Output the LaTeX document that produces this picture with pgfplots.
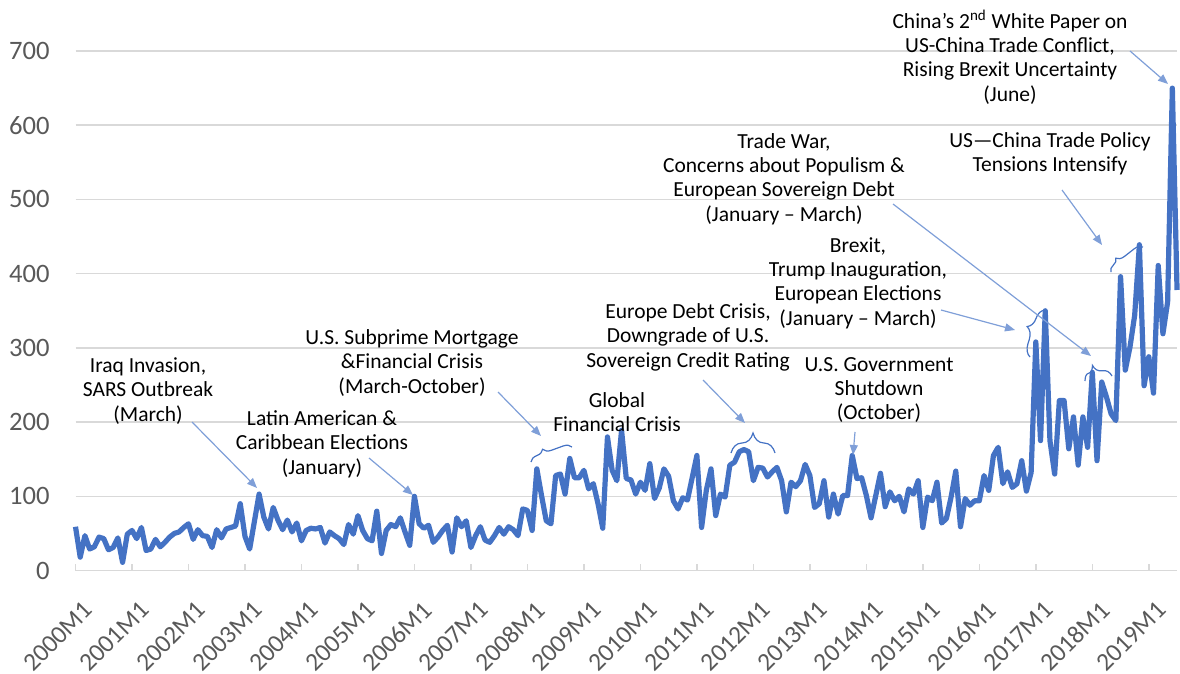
\documentclass[border=0pt]{standalone}
\usepackage{fontspec}
\setmainfont{Carlito}
\usepackage{pgfplots}
\pgfplotsset{compat=1.18}
\usetikzlibrary{arrows.meta,decorations.pathreplacing}
\definecolor{epuBlue}{HTML}{4472C4}
\definecolor{arrowBlue}{HTML}{7F9FD8}
\definecolor{gridGray}{HTML}{D9D9D9}
\definecolor{labelGray}{HTML}{595959}
\newcommand{\annfont}{\fontsize{10.75bp}{12.2bp}\selectfont}

\begin{document}
\begin{tikzpicture}
% pixel frame of the reference (1180 x 672), origin of the axis at px (75.5, 570.5)
\begin{scope}[x=0.5bp,y=-0.5bp,shift={(-37.75bp,285.25bp)}]
  \path[use as bounding box] (0,0) rectangle (1180,672);
\end{scope}

\begin{axis}[
  at={(0,0)}, anchor=south west, scale only axis,
  width=550.75bp, height=259.75bp,
  xmin=0, xmax=234, ymin=0, ymax=700,
  axis x line*=bottom, axis y line*=left,
  y axis line style={draw=none},
  x axis line style={gridGray, line width=0.9bp},
  ytick={0,100,...,700},
  ymajorgrids, grid style={gridGray, line width=0.75bp},
  major y tick style={draw=none},
  xtick={0,12,...,228},
  xticklabels={2000M1,2001M1,2002M1,2003M1,2004M1,2005M1,2006M1,2007M1,2008M1,2009M1,
    2010M1,2011M1,2012M1,2013M1,2014M1,2015M1,2016M1,2017M1,2018M1,2019M1},
  tick align=inside,
  major x tick style={gridGray, line width=0.75bp},
  major tick length=3.5bp,
  ticklabel style={text=labelGray},
  yticklabel style={font=\fontsize{13.3bp}{14bp}\selectfont, anchor=east, inner sep=0pt, xshift=-12.75bp},
  xticklabel style={font=\fontsize{12.7bp}{13bp}\selectfont, inner sep=0pt, anchor=east,
    xshift=6.5bp, yshift=-17.6bp, rotate=45},
  /pgf/number format/assume math mode=true,
  clip=false,
]
\addplot[epuBlue, line width=2.6bp, line join=round, mark=none] coordinates {
  % 2000
  (0,59) (1,18) (2,47) (3,29) (4,32) (5,45) (6,43) (7,28) (8,31) (9,44) (10,11) (11,49)
  % 2001
  (12,54) (13,43) (14,58) (15,27) (16,29) (17,42) (18,32) (19,38) (20,45) (21,50) (22,52) (23,58)
  % 2002
  (24,63) (25,42) (26,55) (27,47) (28,46) (29,31) (30,55) (31,44) (32,56) (33,58) (34,60) (35,90)
  % 2003
  (36,46) (37,29) (38,66) (39,103) (40,72) (41,56) (42,85) (43,68) (44,55) (45,68) (46,52) (47,64)
  % 2004
  (48,40) (49,54) (50,57) (51,56) (52,58) (53,37) (54,52) (55,47) (56,43) (57,35) (58,62) (59,49)
  % 2005
  (60,74) (61,54) (62,43) (63,40) (64,80) (65,23) (66,54) (67,62) (68,59) (69,71) (70,52) (71,34)
  % 2006
  (72,100) (73,63) (74,57) (75,61) (76,38) (77,45) (78,54) (79,61) (80,25) (81,71) (82,59) (83,67)
  % 2007
  (84,31) (85,47) (86,59) (87,41) (88,38) (89,47) (90,58) (91,49) (92,59) (93,55) (94,47) (95,83)
  % 2008
  (96,81) (97,54) (98,137) (99,101) (100,67) (101,63) (102,128) (103,130) (104,103) (105,151) (106,125) (107,125)
  % 2009
  (108,135) (109,110) (110,117) (111,90) (112,57) (113,180) (114,135) (115,121) (116,189) (117,124) (118,122) (119,103)
  % 2010
  (120,119) (121,108) (122,144) (123,97) (124,111) (125,137) (126,127) (127,94) (128,83) (129,98) (130,95) (131,125)
  % 2011
  (132,155) (133,58) (134,108) (135,137) (136,74) (137,103) (138,99) (139,142) (140,146) (141,160) (142,163) (143,160)
  % 2012
  (144,121) (145,139) (146,138) (147,126) (148,133) (149,139) (150,121) (151,79) (152,119) (153,113) (154,121) (155,143)
  % 2013
  (156,128) (157,85) (158,90) (159,121) (160,72) (161,103) (162,76) (163,101) (164,101) (165,155) (166,124) (167,125)
  % 2014
  (168,101) (169,71) (170,101) (171,131) (172,86) (173,106) (174,94) (175,100) (176,79) (177,110) (178,103) (179,121)
  % 2015
  (180,58) (181,99) (182,94) (183,119) (184,64) (185,70) (186,99) (187,134) (188,59) (189,97) (190,88) (191,94)
  % 2016
  (192,94) (193,128) (194,108) (195,155) (196,166) (197,117) (198,133) (199,112) (200,117) (201,148) (202,107) (203,132)
  % 2017
  (204,308) (205,175) (206,350) (207,175) (208,130) (209,229) (210,229) (211,164) (212,207) (213,142) (214,207) (215,166)
  % 2018
  (216,267) (217,148) (218,254) (219,234) (220,211) (221,202) (222,396) (223,270) (224,301) (225,344) (226,439) (227,249)
  % 2019
  (228,288) (229,239) (230,411) (231,319) (232,362) (233,650) (234,378)
};
\end{axis}

% annotations, in reference pixels
\begin{scope}[x=0.5bp,y=-0.5bp,shift={(-37.75bp,285.25bp)},
  every node/.style={font=\annfont, align=center, inner sep=0pt},
  arr/.style={arrowBlue, line width=0.6bp, -{Triangle[length=5bp,width=4bp]}},
  brc/.style={epuBlue, line width=0.6bp, decorate}]
  \node at (148,391) {Iraq Invasion,\\SARS Outbreak\\(March)};
  \draw[arr] (192,422) -- (257,488);

  \node at (322,444) {Latin American \&\\Caribbean Elections\\(January)};
  \draw[arr] (369,458) -- (413,495);

  \node at (412,363) {U.S. Subprime Mortgage\\\&Financial Crisis\\(March-October)};
  \draw[arr] (498,392) -- (541,436);
  \draw[brc, decoration={brace, amplitude=4bp, aspect=0.35}] (531,462) -- (572,447);

  \node at (617,412) {Global\\Financial Crisis};

  \node at (688,337) {Europe Debt Crisis,\\Downgrade of U.S.\\Sovereign Credit Rating};
  \draw[arr] (703,380) -- (745,423);
  \draw[brc, decoration={brace, amplitude=10bp}] (731,453) -- (775,453);

  \node at (879,390) {U.S. Government\\Shutdown\\(October)};
  \draw[arr] (855,432) -- (853,455);

  \node at (858,283) {Brexit,\\Trump Inauguration,\\European Elections\\(January – March)};
  \draw[arr] (941,310) -- (1015,330);
  \draw[brc, decoration={brace, amplitude=6bp, aspect=0.57}] (1030,357) -- (1045,310);

  \node at (784,179) {Trade War,\\Concerns about Populism \&\\European Sovereign Debt\\(January – March)};
  \draw[arr] (893,204) -- (1091,356);
  \draw[brc, decoration={brace, amplitude=7bp, aspect=0.37}] (1085,381) -- (1112,376);

  \node at (1050,154) {US—China Trade Policy\\Tensions Intensify};
  \draw[arr] (1062,190) -- (1102,245);
  \draw[brc, decoration={brace, amplitude=4bp, aspect=0.3}] (1111,272) -- (1143,247);

  \node at (1010,57) {China’s 2\textsuperscript{nd} White Paper on\\US-China Trade Conflict,\\Rising Brexit Uncertainty\\(June)};
  \draw[arr] (1130,51) -- (1168,84);
\end{scope}
\end{tikzpicture}
\end{document}
